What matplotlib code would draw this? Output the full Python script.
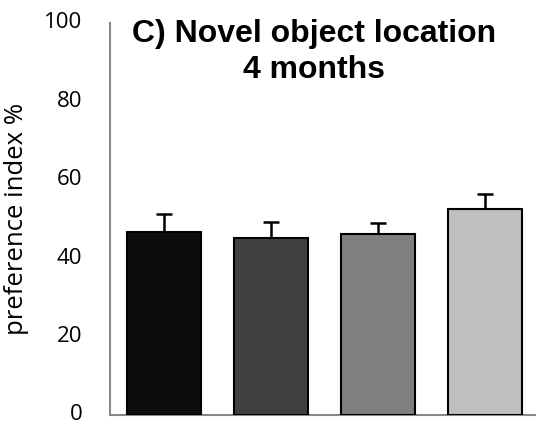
import matplotlib
matplotlib.use("Agg")
import matplotlib.pyplot as plt

# data
groups = ["G1", "G2", "G3", "G4"]
means = [46.8, 45.2, 46.3, 52.6]
sems = [4.6, 4.1, 2.6, 3.8]
colors = ["#0d0d0d", "#404040", "#7f7f7f", "#bfbfbf"]
yticks = [0, 20, 40, 60, 80, 100]

fig = plt.figure(figsize=(5.36, 4.26), dpi=100)
ax = fig.add_axes([110 / 536, 11 / 426, 429 / 536, 392 / 426])

x = range(len(groups))
ax.bar(x, means, width=0.69, color=colors, edgecolor="black", linewidth=1.5, zorder=3)
ax.errorbar(x, means, yerr=[[0] * len(sems), sems], fmt="none", ecolor="black",
            elinewidth=1.8, capsize=5.5, capthick=1.8, zorder=2)

ax.set_xlim(-0.5, 3.5)
ax.set_ylim(0, 100)
ax.set_xticks([])
ax.set_yticks(yticks)
ax.set_yticklabels([str(t) for t in yticks], family="Open Sans", fontsize=16, va="center")
ax.tick_params(axis="y", length=0, pad=20)

for side in ["top", "right"]:
    ax.spines[side].set_visible(False)
for side in ["left", "bottom"]:
    ax.spines[side].set_color("#898989")
    ax.spines[side].set_linewidth(1.5)

ax.set_ylabel("preference index %", family="Open Sans", fontsize=18.5, labelpad=11)

fig.text(314 / 536, 1 - 19 / 426, "C) Novel object location\n4 months", ha="center", va="top",
         family="Liberation Sans", fontweight="bold", fontsize=23, linespacing=1.25)

fig.savefig("out.png", dpi=100)
